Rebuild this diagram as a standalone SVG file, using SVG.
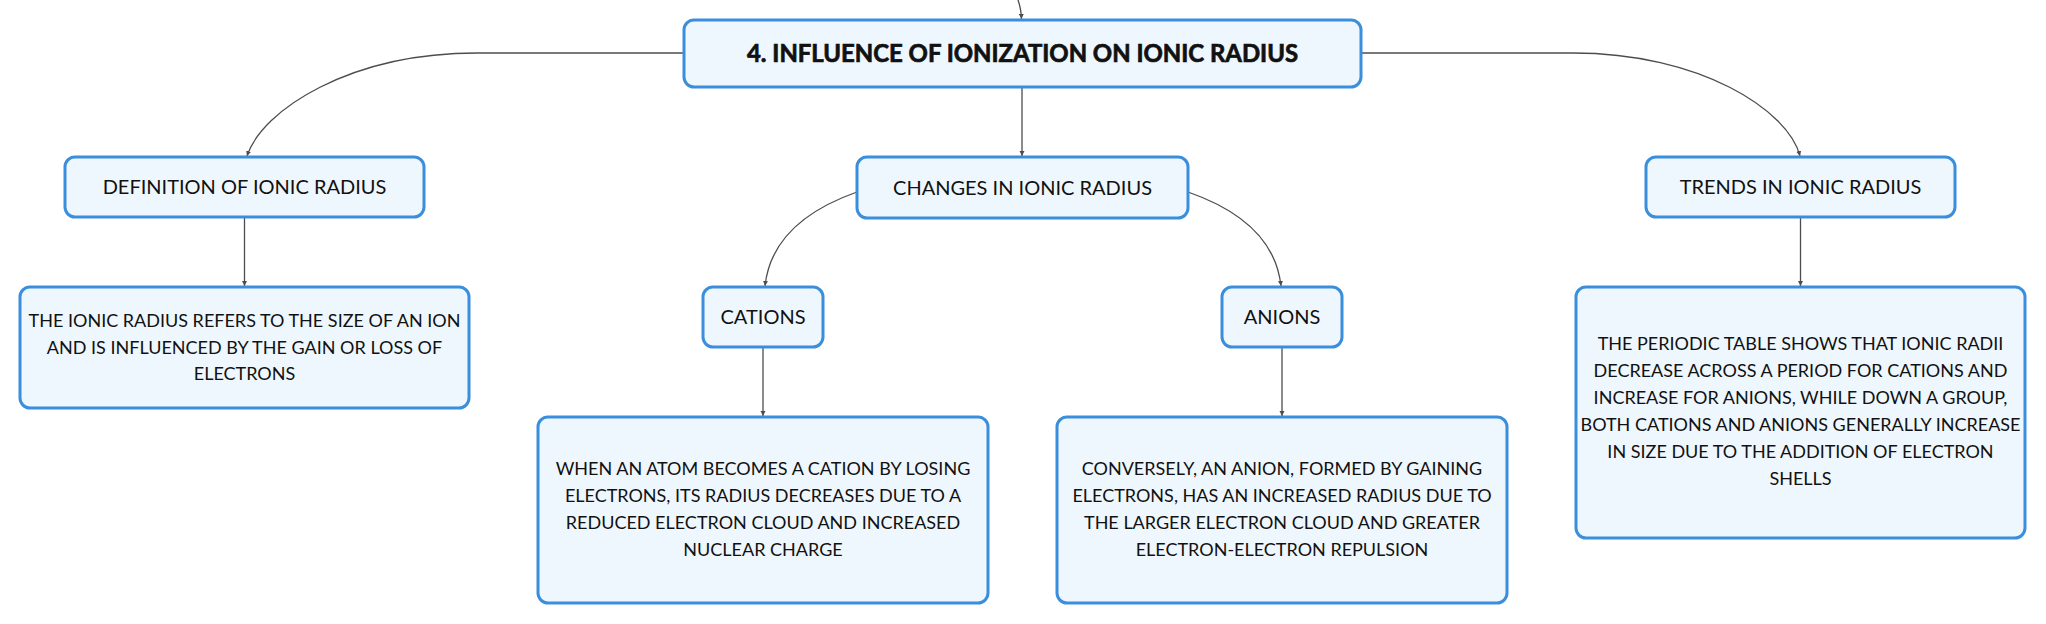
<svg xmlns="http://www.w3.org/2000/svg" width="2046" height="624" viewBox="0 0 2046 624">
<style>
.box{fill:#eff7fe;stroke:#3a8edc;stroke-width:3}
.t{font-family:Lato,"Open Sans","Liberation Sans",sans-serif;fill:#111;text-anchor:middle}
.title{font-size:24px;font-weight:700;stroke:#111;stroke-width:0.7px}
.lbl{font-size:20px}
.desc{font-size:18px}
.c{fill:none;stroke:#4d4d4d;stroke-width:1.3}
</style>
<defs>
<marker id="ah" markerUnits="userSpaceOnUse" markerWidth="6" markerHeight="6" refX="5" refY="3" orient="auto">
<path d="M0,0.5 L5,3 L0,5.5 Z" fill="#4d4d4d"/>
</marker>
</defs>
<rect width="2046" height="624" fill="#fff"/>
<g id="connectors">
<path class="c" d="M1018,0 Q1021,8 1021.5,19" marker-end="url(#ah)"/>
<path class="c" d="M684,53 L477,53 C350,53 262,110 247,156" marker-end="url(#ah)"/>
<path class="c" d="M1361,53 L1573,53 C1700,53 1788,110 1800,156" marker-end="url(#ah)"/>
<path class="c" d="M1022,87 L1022,156" marker-end="url(#ah)"/>
<path class="c" d="M244.5,217 L244.5,286" marker-end="url(#ah)"/>
<path class="c" d="M1800.5,217 L1800.5,286" marker-end="url(#ah)"/>
<path class="c" d="M857,192 Q772,222 765,286" marker-end="url(#ah)"/>
<path class="c" d="M1188,192 Q1274,222 1281,286" marker-end="url(#ah)"/>
<path class="c" d="M763,347 L763,416" marker-end="url(#ah)"/>
<path class="c" d="M1282,347 L1282,416" marker-end="url(#ah)"/>
</g>
<g id="title">
<rect class="box" x="684" y="20" width="677" height="67" rx="10"/>
<text class="t title" x="1022.5" y="62" textLength="551" lengthAdjust="spacingAndGlyphs">4. INFLUENCE OF IONIZATION ON IONIC RADIUS</text>
</g>
<g id="definition">
<rect class="box" x="65" y="157" width="359" height="60" rx="10"/>
<text class="t lbl" x="244.5" y="194">DEFINITION OF IONIC RADIUS</text>
</g>
<g id="definition-desc">
<rect class="box" x="20" y="287" width="449" height="121" rx="10"/>
<text class="t desc" x="244.5" y="327">THE IONIC RADIUS REFERS TO THE SIZE OF AN ION</text>
<text class="t desc" x="244.5" y="353.5">AND IS INFLUENCED BY THE GAIN OR LOSS OF</text>
<text class="t desc" x="244.5" y="380">ELECTRONS</text>
</g>
<g id="changes">
<rect class="box" x="857" y="157" width="331" height="61" rx="10"/>
<text class="t lbl" x="1022.5" y="194.5">CHANGES IN IONIC RADIUS</text>
</g>
<g id="cations">
<rect class="box" x="703" y="287" width="120" height="60" rx="10"/>
<text class="t lbl" x="763" y="323.5">CATIONS</text>
</g>
<g id="cations-desc">
<rect class="box" x="538" y="417" width="450" height="186" rx="10"/>
<text class="t desc" x="763" y="475">WHEN AN ATOM BECOMES A CATION BY LOSING</text>
<text class="t desc" x="763" y="502">ELECTRONS, ITS RADIUS DECREASES DUE TO A</text>
<text class="t desc" x="763" y="529">REDUCED ELECTRON CLOUD AND INCREASED</text>
<text class="t desc" x="763" y="556">NUCLEAR CHARGE</text>
</g>
<g id="anions">
<rect class="box" x="1222" y="287" width="120" height="60" rx="10"/>
<text class="t lbl" x="1282" y="323.5">ANIONS</text>
</g>
<g id="anions-desc">
<rect class="box" x="1057" y="417" width="450" height="186" rx="10"/>
<text class="t desc" x="1282" y="475">CONVERSELY, AN ANION, FORMED BY GAINING</text>
<text class="t desc" x="1282" y="502">ELECTRONS, HAS AN INCREASED RADIUS DUE TO</text>
<text class="t desc" x="1282" y="529">THE LARGER ELECTRON CLOUD AND GREATER</text>
<text class="t desc" x="1282" y="556">ELECTRON-ELECTRON REPULSION</text>
</g>
<g id="trends">
<rect class="box" x="1646" y="157" width="309" height="60" rx="10"/>
<text class="t lbl" x="1800.5" y="194">TRENDS IN IONIC RADIUS</text>
</g>
<g id="trends-desc">
<rect class="box" x="1576" y="287" width="449" height="251" rx="10"/>
<text class="t desc" x="1800.5" y="350">THE PERIODIC TABLE SHOWS THAT IONIC RADII</text>
<text class="t desc" x="1800.5" y="377">DECREASE ACROSS A PERIOD FOR CATIONS AND</text>
<text class="t desc" x="1800.5" y="404">INCREASE FOR ANIONS, WHILE DOWN A GROUP,</text>
<text class="t desc" x="1800.5" y="431">BOTH CATIONS AND ANIONS GENERALLY INCREASE</text>
<text class="t desc" x="1800.5" y="458">IN SIZE DUE TO THE ADDITION OF ELECTRON</text>
<text class="t desc" x="1800.5" y="485">SHELLS</text>
</g>
</svg>
